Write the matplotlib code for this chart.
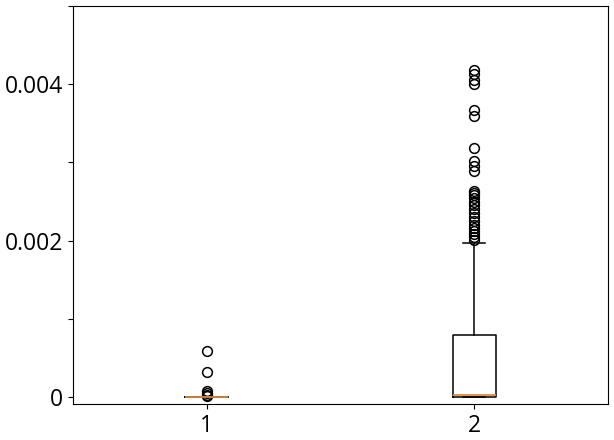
import matplotlib.pyplot as plt
from matplotlib.ticker import FixedLocator, FuncFormatter

plt.rcParams['font.family'] = ['Open Sans', 'DejaVu Sans']

# Box statistics
labels = ['1', '2']
medians = [0.0, 0.00002]
q1 = [0.0, 0.0]
q3 = [0.0, 0.00079]
whislo = [0.0, 0.0]
whishi = [0.0, 0.00197]

fliers_1 = [0.00059, 0.00032, 0.00008, 0.00005, 0.00002, 0.00001]
fliers_2 = [0.00418, 0.00413, 0.00406, 0.00400,
            0.00367, 0.00360,
            0.00318,
            0.00302, 0.00295, 0.00289,
            0.00263, 0.00261, 0.00258, 0.00254, 0.00250, 0.00245,
            0.00240, 0.00235, 0.00230, 0.00225, 0.00220, 0.00216,
            0.00212, 0.00208, 0.00204, 0.00201]
fliers = [fliers_1, fliers_2]

stats = []
for i in range(len(labels)):
    stats.append({
        'label': labels[i],
        'med': medians[i],
        'q1': q1[i],
        'q3': q3[i],
        'whislo': whislo[i],
        'whishi': whishi[i],
        'fliers': fliers[i],
    })

fig = plt.figure(figsize=(6.14, 4.40), dpi=100)
ax = fig.add_axes([0.119, 0.082, 0.871, 0.904])
ax.bxp(stats, showfliers=True, widths=0.16,
       flierprops=dict(marker='o', markersize=7, markerfacecolor='none',
                       markeredgecolor='black', markeredgewidth=1.1),
       boxprops=dict(linewidth=1.1), whiskerprops=dict(linewidth=1.1),
       capprops=dict(linewidth=1.1),
       medianprops=dict(linewidth=1.3, color='#e08a3c'))

ax.set_ylim(-0.00009, 0.005)
ax.yaxis.set_major_locator(FixedLocator([0, 0.001, 0.002, 0.003, 0.004, 0.005]))
ax.yaxis.set_major_formatter(FuncFormatter(
    lambda v, p: '' if round(v * 1000) % 2 else ('0' if abs(v) < 1e-12 else f'{v:.3f}')))
ax.tick_params(labelsize=16.5)

fig.savefig('out.png', dpi=100)
